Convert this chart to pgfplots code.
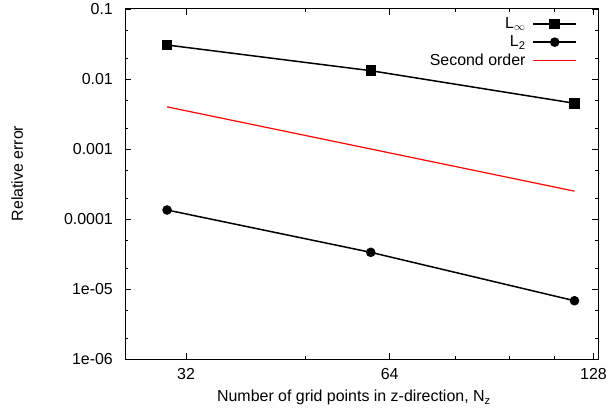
\documentclass[border=0pt]{standalone}
\usepackage{pgfplots}
\pgfplotsset{compat=1.18}
\usepackage{fontspec}
\setmainfont{Liberation Sans}

\begin{document}
\fontsize{16}{19}\selectfont
\begin{tikzpicture}
\begin{loglogaxis}[
    width=473bp, height=350bp, scale only axis,
    log basis x=2,
    xmin=26, xmax=130,
    ymin=1e-6, ymax=0.1,
    xtick={32,64,128}, xticklabels={32,64,128},
    extra x ticks={48,80,96,112},
    extra x tick labels={},
    extra x tick style={major tick length=3bp},
    ytick={1e-6,1e-5,1e-4,1e-3,1e-2,1e-1},
    yticklabels={1e-06,1e-05,0.0001,0.001,0.01,0.1},
    minor ytick={2e-6,5e-6,2e-5,5e-5,2e-4,5e-4,2e-3,5e-3,2e-2,5e-2},
    tick align=inside,
    major tick length=6bp, minor tick length=3bp,
    tick style={black, line width=0.8bp},
    axis line style={black, line width=1bp},
    xticklabel style={inner sep=0pt, yshift=-9bp},
    yticklabel style={inner sep=0pt, xshift=-12bp},
    xlabel={Number of grid points in z-direction, N\textsubscript{z}},
    ylabel={Relative error},
    xlabel style={at={(axis description cs:0.484,-0.11)}, anchor=center},
    ylabel style={at={(axis description cs:-0.228,0.53)}, anchor=center, rotate=0},
    legend plot pos=right,
    legend cell align=right,
    legend style={draw=none, fill=none, at={(axis description cs:0.956,0.983)}, anchor=north east,
        inner sep=0pt, row sep=1bp, column sep=5bp, font=\fontsize{16}{19}\selectfont},
]
\coordinate (o) at (rel axis cs:0,0);
\addplot[black, line width=1.5bp, mark=square*, mark size=4.5bp, mark options={solid},
    legend image code/.code={\draw[draw=black, line width=1.5bp] (0bp,0bp) -- (43bp,0bp);
        \fill[black] (21.5bp,0bp) +(-4.5bp,-4.5bp) rectangle +(4.5bp,4.5bp);}]
    coordinates {(30,0.0306) (60,0.01315) (120,0.0045)};
\addlegendentry{L$_\infty$}
\addplot[black, line width=1.5bp, mark=*, mark size=4bp,
    legend image code/.code={\draw[draw=black, line width=1.5bp] (0bp,0bp) -- (43bp,0bp);
        \fill[black] (21.5bp,0bp) circle[radius=4bp];}]
    coordinates {(30,1.345e-4) (60,3.34e-5) (120,6.8e-6)};
\addlegendentry{L\textsubscript{2}}
\addplot[red, line width=1.2bp,
    legend image code/.code={\draw[draw=red, line width=1bp] (0bp,0bp) -- (43bp,0bp);}]
    coordinates {(30,0.004) (120,0.00025)};
\addlegendentry{Second order}
\end{loglogaxis}
\path (o) +(-125bp,-50bp) (o) +(485bp,359bp);
\end{tikzpicture}
\end{document}
